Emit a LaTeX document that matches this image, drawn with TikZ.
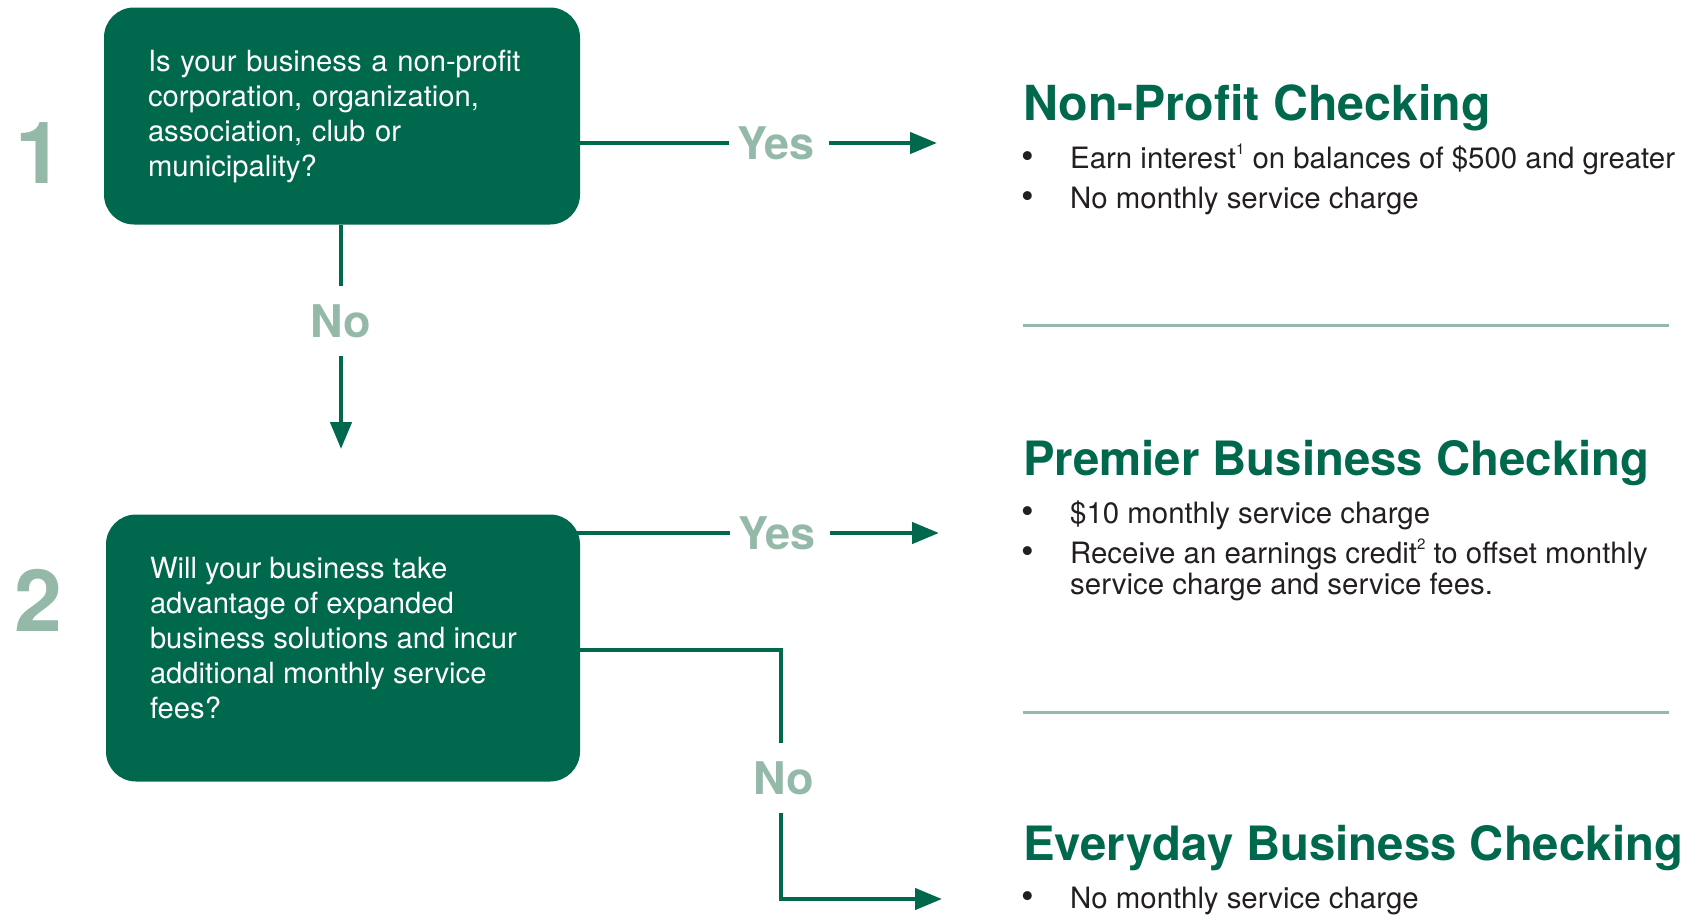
\documentclass[tikz,border=0pt]{standalone}
\usepackage{fontspec}
\setmainfont{TeX Gyre Heros}
\usetikzlibrary{positioning,arrows.meta}
\definecolor{bankgreen}{RGB}{0,104,77}
\definecolor{sagegreen}{RGB}{148,185,168}
\definecolor{bodygray}{RGB}{35,31,32}
\newcommand{\fnmark}[1]{\raisebox{0.85ex}{\fontsize{15}{15}\selectfont #1}}

\begin{document}
\begin{tikzpicture}[x=1pt,y=-1pt,
   qbox/.style={fill=bankgreen, rounded corners=30pt, text=white, align=left,
      inner xsep=44pt, font=\fontsize{29.2}{35}\selectfont},
   answer/.style={text=sagegreen, font=\bfseries\fontsize{45}{45}\selectfont,
      inner xsep=8pt, inner ysep=18pt},
   stepno/.style={text=sagegreen, font=\bfseries\fontsize{86}{86}\selectfont},
   acct/.style={text=bankgreen, anchor=base west, inner sep=0pt,
      font=\bfseries\fontsize{47.3}{48}\selectfont},
   bul/.style={text=bodygray, anchor=base, inner sep=0pt,
      font=\fontsize{36}{31}\selectfont},
   itm/.style={text=bodygray, anchor=base west, inner sep=0pt, align=left,
      font=\fontsize{29.4}{31}\selectfont},
   flow/.style={draw=bankgreen, line width=4.5pt},
   flowarrow/.style={flow, -{Triangle[length=27pt,width=21pt]}},
   sep/.style={draw=sagegreen, line width=3pt}]
      \useasboundingbox (0,0) rectangle (1683,914);
      % questions
      \node [qbox, minimum width=476pt, minimum height=217pt, text width=388pt] (q1) at (342,116)
         {Is your business a non-profit\\corporation, organization,\\association, club or\\municipality?};
      \node [qbox, minimum width=474pt, minimum height=267pt] (q2) at (343,648)
         {\parbox{386pt}{\raggedright Will your business take\\advantage of expanded\\business solutions and incur\\additional monthly service\\fees?\par\vspace*{20pt}}};
      \node [stepno] (n1) at (39,153) {1};
      \node [stepno] (n2) at (38,600) {2};
      % answers
      \node [answer] (yes1) at (776,143) {Yes};
      \node [answer] (no1) at (341,321) {No};
      \node [answer] (yes2) at (777,533) {Yes};
      \node [answer] (no2) at (784,778) {No};
      \coordinate (tip1) at (937,143);
      \coordinate (tip2) at (939,533);
      \coordinate (tip3) at (942,899);
      \coordinate (down1) at (341,449);
      \coordinate (bend2) at (781,650);
      \draw[flow] (q1.east |- yes1) -- (yes1.west);
      \draw[flowarrow] ([xshift=6pt]yes1.east) -- (tip1);
      \draw[flow] (q1.south -| no1) -- (no1.north);
      \draw[flowarrow] (no1.south) -- (down1);
      \draw[flow] ([xshift=-10pt]q2.east |- yes2) -- (yes2.west);
      \draw[flowarrow] ([xshift=6pt]yes2.east) -- (tip2);
      \draw[flow] ([xshift=-5pt]q2.east |- bend2) -- (bend2) -- (bend2 |- no2.north);
      \draw[flowarrow] (no2.south -| bend2) |- (tip3);
      % accounts
      \node [acct, font=\bfseries\fontsize{48.3}{48}\selectfont] (t1) at (1023,120) {Non-Profit Checking};
      \node [bul] (b11) at (1028,168) {\textbullet};
      \node [itm] (i11) at (1070,168) {Earn interest\fnmark{1} on balances of \$500 and greater};
      \node [bul] (b12) at (1028,208) {\textbullet};
      \node [itm] (i12) at (1070,208) {No monthly service charge};
      \draw[sep] (1023,325) -- (1669,325);
      \node [acct] (t2) at (1023,475) {Premier Business Checking};
      \node [bul] (b21) at (1028,523) {\textbullet};
      \node [itm] (i21) at (1070,523) {\$10 monthly service charge};
      \node [bul] (b22) at (1028,563) {\textbullet};
      \node [itm] (i22) at (1070,594) {Receive an earnings credit\fnmark{2} to offset monthly\\service charge and service fees.};
      \draw[sep] (1023,712) -- (1669,712);
      \node [acct] (t3) at (1023,860) {Everyday Business Checking};
      \node [bul] (b31) at (1028,908) {\textbullet};
      \node [itm] (i31) at (1070,908) {No monthly service charge};
\end{tikzpicture}
\end{document}
